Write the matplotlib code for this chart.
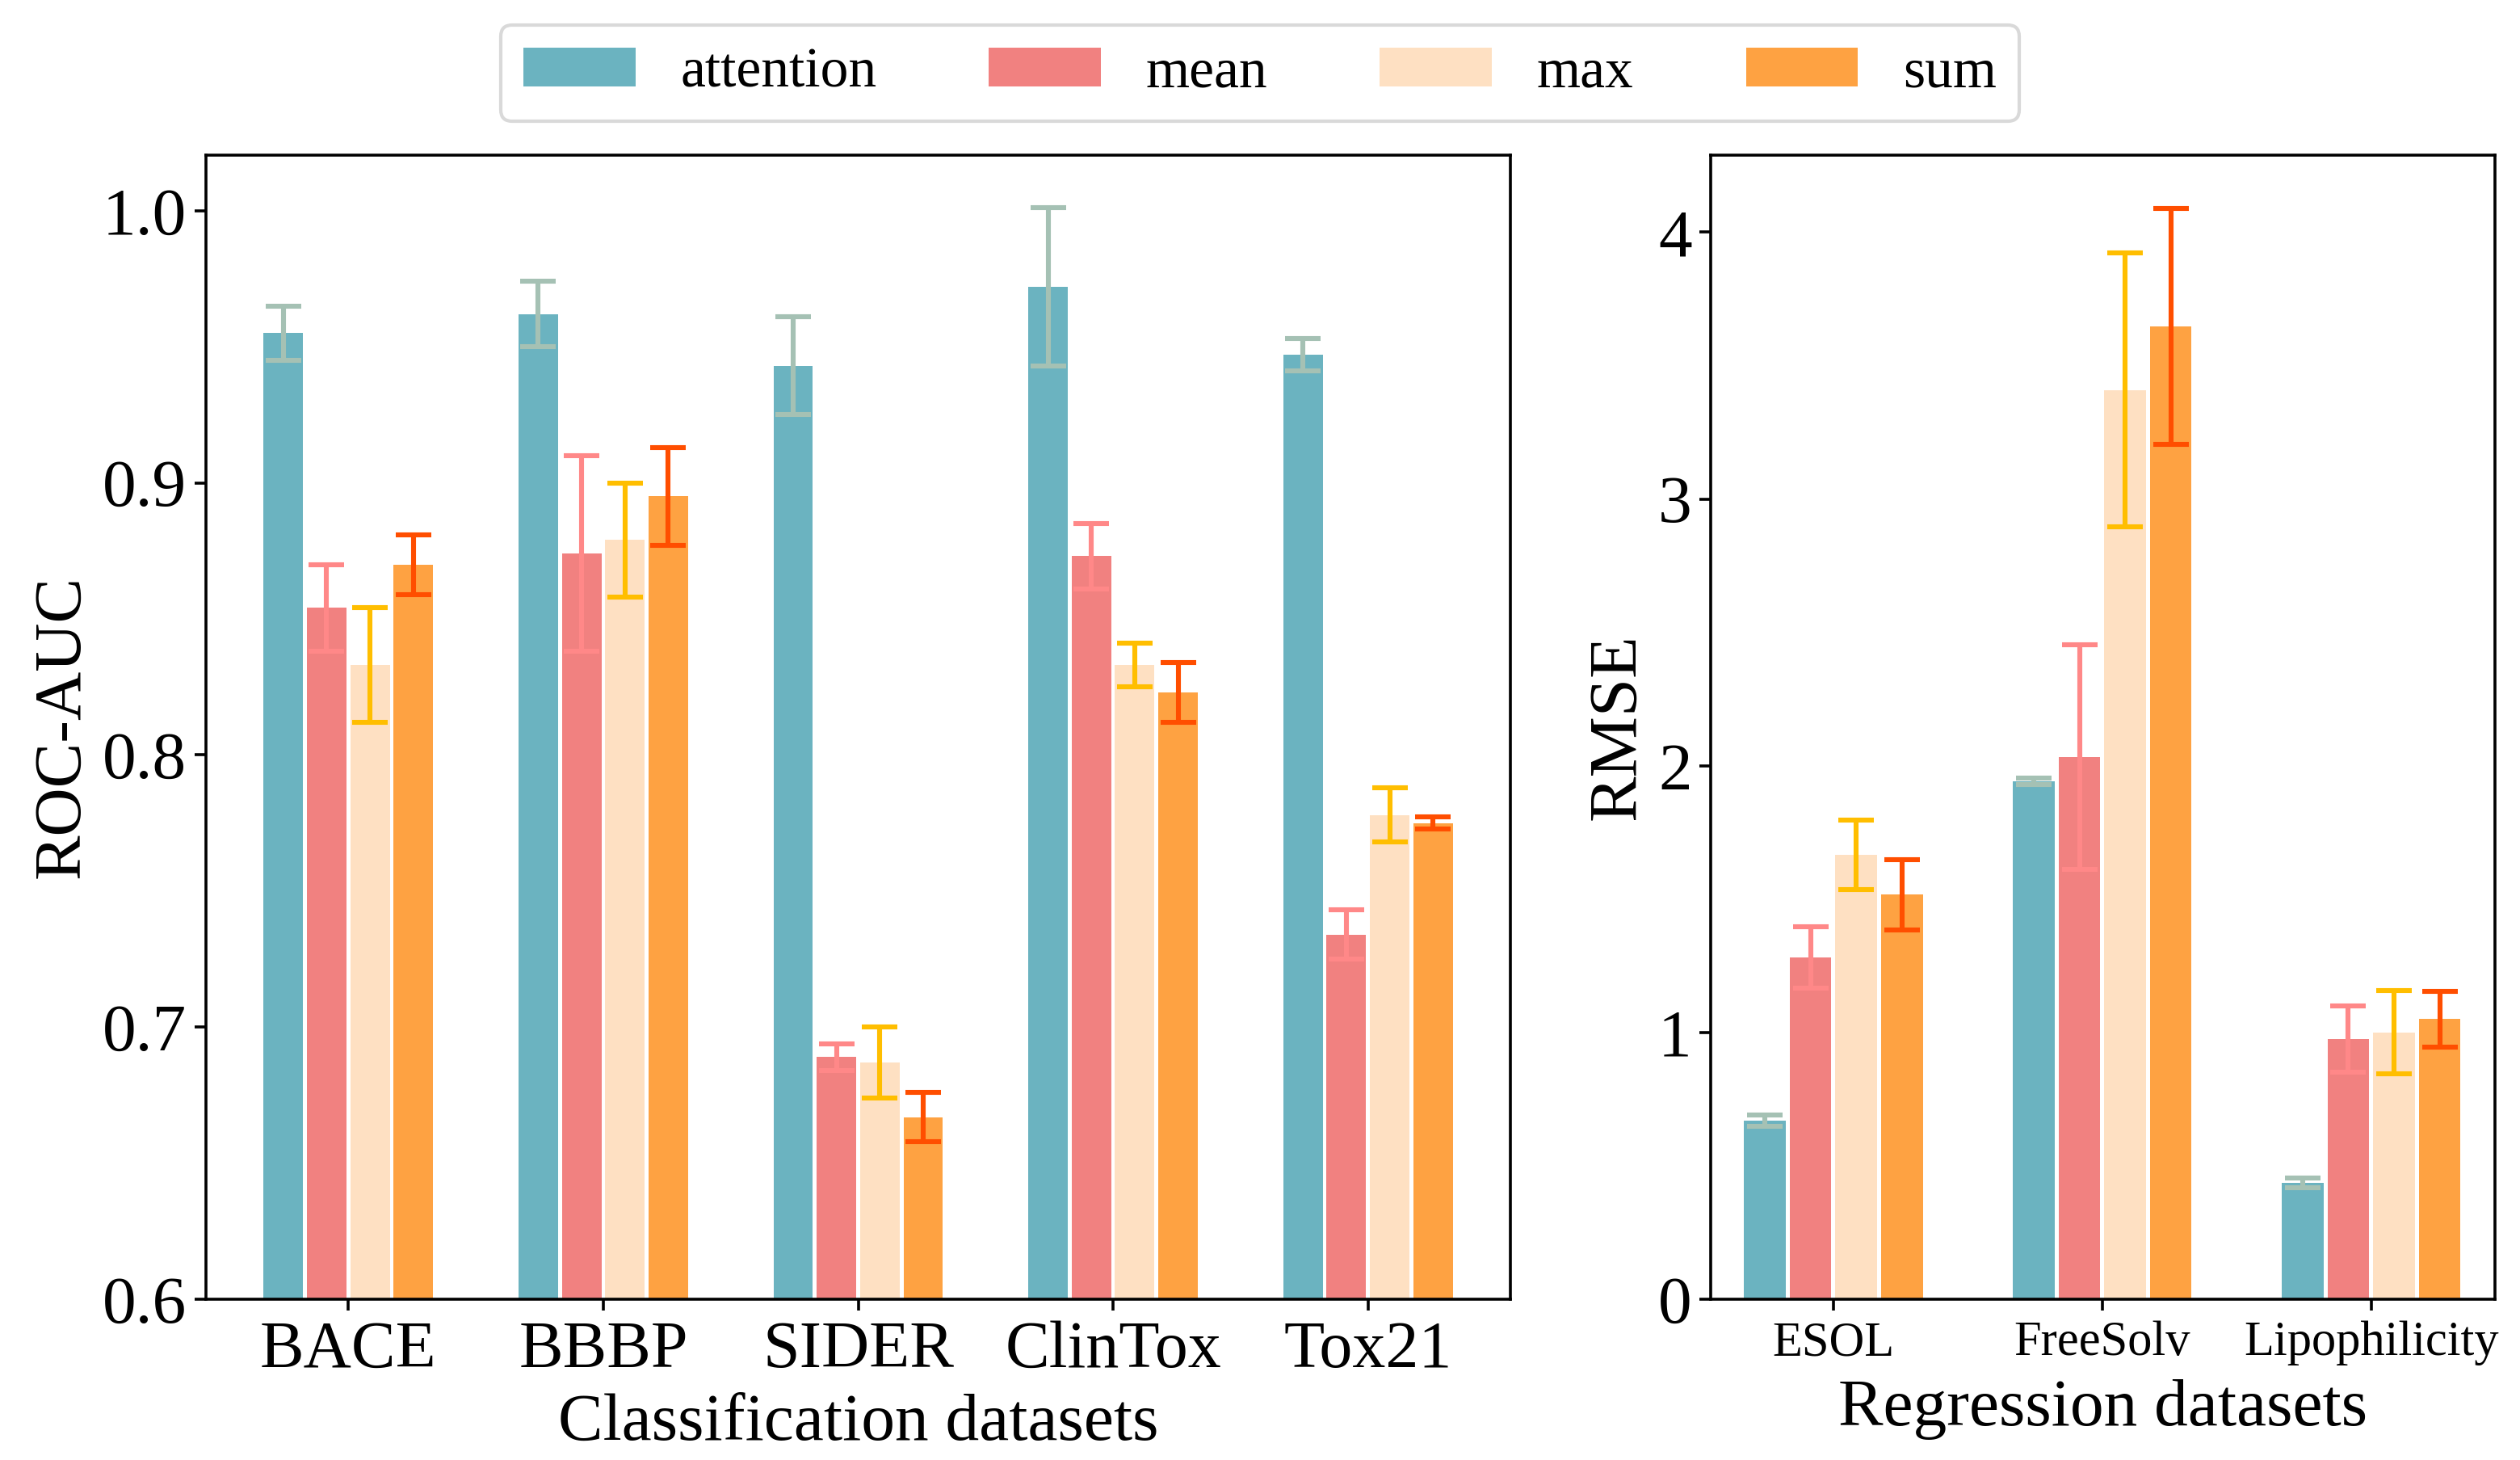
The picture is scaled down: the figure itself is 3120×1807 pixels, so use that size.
import matplotlib
matplotlib.use("Agg")
import matplotlib.pyplot as plt
import numpy as np

plt.rcParams['font.family'] = ['Liberation Serif', 'DejaVu Serif']
plt.rcParams['mathtext.fontset'] = 'stix'

methods = ["attention", "mean", "max", "sum"]
bar_colors = ["#6BB3C0", "#F18180", "#FEE0C2", "#FEA242"]
err_colors = ["#A5C1B4", "#FF8888", "#FFBE00", "#FF4E00"]

cls_datasets = ["BACE", "BBBP", "SIDER", "ClinTox", "Tox21"]
cls_attention = [0.955, 0.962, 0.943, 0.972, 0.947]
cls_mean = [0.854, 0.874, 0.689, 0.873, 0.734]
cls_max = [0.833, 0.879, 0.687, 0.833, 0.778]
cls_sum = [0.870, 0.895, 0.667, 0.823, 0.775]
cls_attention_err = [0.010, 0.012, 0.018, 0.029, 0.006]
cls_mean_err = [0.016, 0.036, 0.005, 0.012, 0.009]
cls_max_err = [0.021, 0.021, 0.013, 0.008, 0.010]
cls_sum_err = [0.011, 0.018, 0.009, 0.011, 0.0023]

reg_datasets = ["ESOL", "FreeSolv", "Lipophilicity"]
reg_attention = [0.670, 1.942, 0.437]
reg_mean = [1.281, 2.033, 0.976]
reg_max = [1.665, 3.408, 1.001]
reg_sum = [1.517, 3.648, 1.051]
reg_attention_err = [0.022, 0.011, 0.019]
reg_mean_err = [0.115, 0.420, 0.123]
reg_max_err = [0.130, 0.513, 0.156]
reg_sum_err = [0.132, 0.442, 0.104]

fig = plt.figure(figsize=(15.6, 9.035), dpi=200)
ax1 = fig.add_axes([0.0816, 0.110, 0.5179, 0.784])
ax2 = fig.add_axes([0.6790, 0.110, 0.3110, 0.784])

pitch = 0.17
width = 0.155


def draw(ax, cats, vals, errs):
    x = np.arange(len(cats))
    handles = []
    for i, (v, e) in enumerate(zip(vals, errs)):
        pos = x + (i - 1.5) * pitch
        b = ax.bar(pos, v, width, color=bar_colors[i], label=methods[i], zorder=2)
        ax.errorbar(pos, v, yerr=e, fmt='none', ecolor=err_colors[i],
                    elinewidth=2.2, capsize=8.0, capthick=2.2, zorder=3)
        handles.append(b)
    ax.set_xticks(x)
    ax.set_xticklabels(cats)
    return handles


handles = draw(ax1, cls_datasets,
               [cls_attention, cls_mean, cls_max, cls_sum],
               [cls_attention_err, cls_mean_err, cls_max_err, cls_sum_err])
ax1.set_ylim(0.6, 1.0205)
ax1.set_xlim(-0.56, 4.56)
ax1.set_yticks([0.6, 0.7, 0.8, 0.9, 1.0])
ax1.tick_params(axis='y', labelsize=30, length=5, width=1.3)
ax1.tick_params(axis='x', labelsize=29.5, length=5, width=1.3, pad=4.5)
ax1.set_ylabel("ROC-AUC", fontsize=30)
ax1.set_xlabel("Classification datasets", fontsize=30, labelpad=5)

draw(ax2, reg_datasets,
     [reg_attention, reg_mean, reg_max, reg_sum],
     [reg_attention_err, reg_mean_err, reg_max_err, reg_sum_err])
ax2.set_ylim(0, 4.29)
ax2.set_xlim(-0.455, 2.46)
ax2.set_yticks([0, 1, 2, 3, 4])
ax2.tick_params(axis='y', labelsize=30, length=5, width=1.3)
ax2.tick_params(axis='x', labelsize=21.8, length=5, width=1.3, pad=4.5)
ax2.set_ylabel("RMSE", fontsize=30.5)
ax2.set_xlabel("Regression datasets", fontsize=30, labelpad=6)

for ax in (ax1, ax2):
    for s in ax.spines.values():
        s.set_linewidth(1.3)

leg = fig.legend(handles, methods, loc='center', bbox_to_anchor=(0.5, 0.950),
                 ncol=4, fontsize=25, columnspacing=2.0, handletextpad=0.8,
                 handlelength=2.0, frameon=True, fancybox=True)
leg.get_frame().set_edgecolor('#D0D0D0')
leg.get_frame().set_linewidth(1.5)

fig.savefig("out.png", dpi=200)
